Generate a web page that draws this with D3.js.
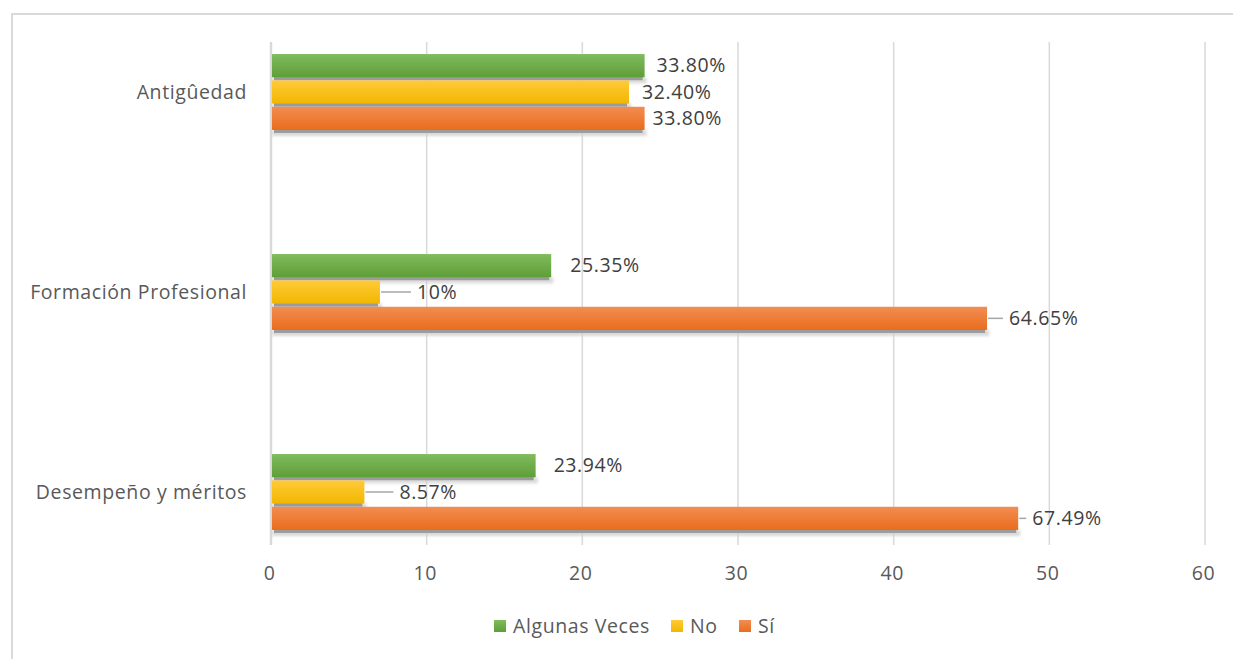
<!DOCTYPE html>
<html><head><meta charset="utf-8">
<script src="https://cdn.jsdelivr.net/npm/d3@7"></script>
<style>
html,body{margin:0;padding:0;background:#fff;}
svg{display:block;font-family:"Open Sans",sans-serif;}
svg text{letter-spacing:0.6px;}
</style></head>
<body><svg id="c" width="1233" height="659"></svg>
<script>
const categories = ["Antigûedad", "Formación Profesional", "Desempeño y méritos"];
const seriesNames = ["Algunas Veces", "No", "Sí"];
const valuesAlgunas = [24, 18, 17];
const valuesNo = [23, 7, 6];
const valuesSi = [24, 46, 48];
const labelsAlgunas = ["33.80%", "25.35%", "23.94%"];
const labelsNo = ["32.40%", "10%", "8.57%"];
const labelsSi = ["33.80%", "64.65%", "67.49%"];
const xTicks = [0, 10, 20, 30, 40, 50, 60];

// layout only: label offsets from bar end (dx) and whether a leader line is drawn
const labelLayout = [
  [{dx:12,lead:false},{dx:13,lead:false},{dx:8,lead:false}],
  [{dx:19,lead:false},{dx:37,lead:true},{dx:22,lead:true}],
  [{dx:18,lead:false},{dx:35,lead:true},{dx:14,lead:true}]
];

const colors = [
  ["#80bb5c","#5e9f38"],
  ["#ffca38","#f1b700"],
  ["#f28d52","#e96d1d"]
];
const FS = 19.5;

const svg = d3.select("#c");
const defs = svg.append("defs");
colors.forEach((c,i)=>{
  const g = defs.append("linearGradient").attr("id","g"+i).attr("x1",0).attr("y1",0).attr("x2",0).attr("y2",1);
  g.append("stop").attr("offset","0%").attr("stop-color",c[0]);
  g.append("stop").attr("offset","100%").attr("stop-color",c[1]);
});
const blur = defs.append("filter").attr("id","blur").attr("x","-5%").attr("y","-50%").attr("width","110%").attr("height","200%");
blur.append("feGaussianBlur").attr("stdDeviation",1.5);

// frame
svg.append("path").attr("d","M12,659 V14 H1233").attr("fill","none").attr("stroke","#d9d9d9").attr("stroke-width",2);

const x = d3.scaleLinear().domain([0,60]).range([271,1205]);
const yCat = d3.scalePoint().domain(categories).range([92,492]);
const ySer = d3.scaleBand().domain(seriesNames).range([-39,39]).paddingInner(0.12).paddingOuter(0.04);

// gridlines
svg.append("g").selectAll("line").data(xTicks.slice(1)).join("line")
  .attr("x1",d=>x(d)).attr("x2",d=>x(d)).attr("y1",42).attr("y2",545)
  .attr("stroke","#d9d9d9").attr("stroke-width",1.5);
// axis line
svg.append("line").attr("x1",x(0)).attr("x2",x(0)).attr("y1",42).attr("y2",545)
  .attr("stroke","#d9d9d9").attr("stroke-width",2.5);

// x axis tick labels
const xAxis = d3.axisBottom(x).tickValues(xTicks).tickSize(0).tickPadding(0);
const gx = svg.append("g").attr("transform","translate(-2,566)").call(xAxis);
gx.select(".domain").remove();
gx.selectAll("text").attr("font-size",FS).attr("fill","#595959").attr("font-family","Open Sans").attr("dy","0.71em");

// category labels
svg.append("g").selectAll("text").data(categories).join("text")
  .attr("x",247).attr("y",d=>yCat(d)).attr("dy","0.35em").attr("text-anchor","end")
  .attr("font-size",FS).attr("fill","#595959").text(d=>d);

const series = [valuesAlgunas, valuesNo, valuesSi];
const labels = [labelsAlgunas, labelsNo, labelsSi];
const bh = ySer.bandwidth();

categories.forEach((cat,ci)=>{
  seriesNames.forEach((s,si)=>{
    const v = series[si][ci];
    const y0 = yCat(cat)+ySer(s);
    const x0 = x(0)+1, x1 = x(v);
    const g = svg.append("g");
    g.append("rect").attr("x",x0).attr("y",y0+bh).attr("width",x1-x0+2).attr("height",6)
      .attr("fill","#cfcfcf").attr("filter","url(#blur)").attr("opacity",0.8);
    g.append("rect").attr("x",x0+2).attr("y",y0+bh-1).attr("width",Math.max(0,x1-x0-4)).attr("height",4)
      .attr("fill","#9b9b9b");
    g.append("rect").attr("x",x0).attr("y",y0).attr("width",x1-x0).attr("height",bh)
      .attr("fill","url(#g"+si+")");
  });
});

// labels
categories.forEach((cat,ci)=>{
  seriesNames.forEach((s,si)=>{
    const v = series[si][ci];
    const yc = yCat(cat)+ySer(s)+bh/2;
    const L = labelLayout[ci][si];
    const xe = x(v);
    if (L.lead) {
      svg.append("line").attr("x1",xe+1).attr("x2",xe+L.dx-6).attr("y1",yc).attr("y2",yc)
        .attr("stroke","#a6a6a6").attr("stroke-width",1.5);
    }
    svg.append("text").attr("x",xe+L.dx).attr("y",yc).attr("dy","0.35em")
      .attr("font-size",FS).attr("fill","#404040").text(labels[si][ci]);
  });
});

// legend
const legendX = [494, 671, 739];
const lg = svg.append("g");
seriesNames.forEach((s,i)=>{
  lg.append("rect").attr("x",legendX[i]).attr("y",620).attr("width",12).attr("height",12).attr("fill","url(#g"+i+")");
  lg.append("text").attr("x",legendX[i]+19).attr("y",626).attr("dy","0.35em").attr("font-size",FS).attr("fill","#595959").text(s);
});
</script></body></html>
